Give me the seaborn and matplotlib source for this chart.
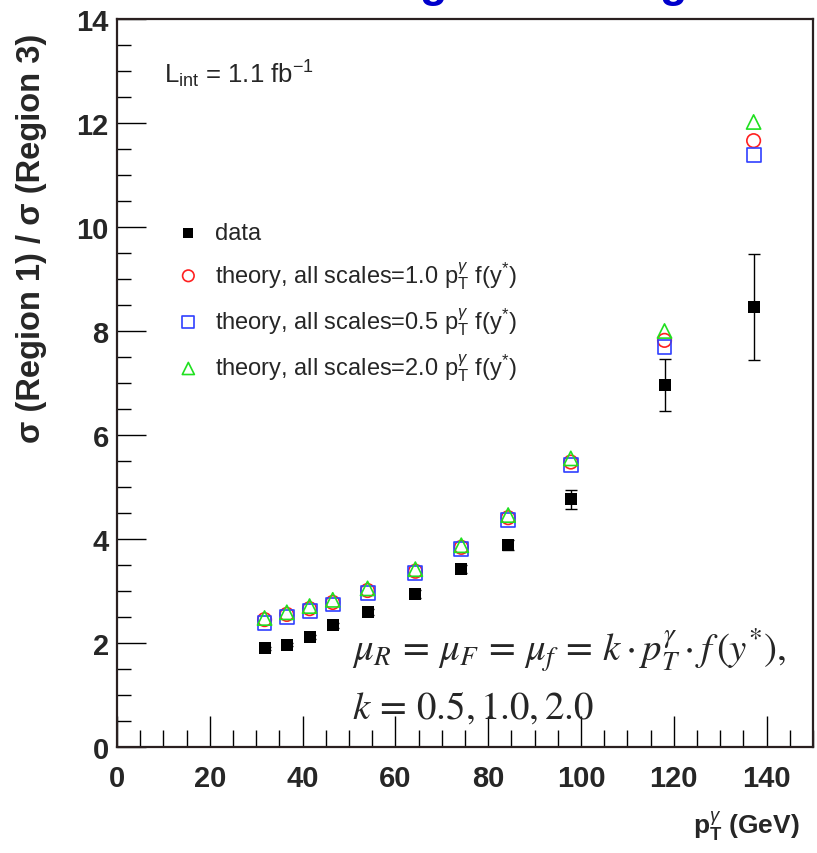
import matplotlib
matplotlib.use("Agg")
import matplotlib.pyplot as plt
import seaborn as sns
import pandas as pd
import numpy as np
from matplotlib.ticker import MultipleLocator

# ---- data ----
pt = [31.8, 36.6, 41.5, 46.5, 54.0, 64.3, 74.2, 84.3, 97.8, 118.0, 137.2]
data = [1.90, 1.97, 2.12, 2.34, 2.59, 2.94, 3.42, 3.89, 4.76, 6.97, 8.46]
data_err = [0.03, 0.03, 0.04, 0.05, 0.06, 0.07, 0.08, 0.10, 0.18, 0.50, 1.02]
theory_10 = [2.45, 2.55, 2.66, 2.78, 3.01, 3.38, 3.84, 4.41, 5.48, 7.82, 11.66]
theory_05 = [2.38, 2.50, 2.61, 2.74, 2.97, 3.34, 3.80, 4.37, 5.43, 7.70, 11.38]
theory_20 = [2.48, 2.59, 2.71, 2.83, 3.05, 3.42, 3.88, 4.46, 5.55, 8.00, 12.02]

lbl_data = "data"
lbl_10 = r"theory, all scales=1.0 $\mathrm{p}_{\mathrm{T}}^{\gamma}$ f(y$^{*}$)"
lbl_05 = r"theory, all scales=0.5 $\mathrm{p}_{\mathrm{T}}^{\gamma}$ f(y$^{*}$)"
lbl_20 = r"theory, all scales=2.0 $\mathrm{p}_{\mathrm{T}}^{\gamma}$ f(y$^{*}$)"

sns.set_theme(style="white")
plt.rcParams["font.family"] = ["Liberation Sans", "DejaVu Sans"]
plt.rcParams["mathtext.fontset"] = "custom"
plt.rcParams["mathtext.rm"] = "Liberation Sans"
plt.rcParams["mathtext.it"] = "Liberation Sans:italic"
plt.rcParams["mathtext.bf"] = "Liberation Sans:bold"

fig = plt.figure(figsize=(8.17, 8.54), dpi=100)
ax = fig.add_axes([117/817, 106/854, 696/817, 728/854])

df = pd.DataFrame({"pt": pt, "data": data, "err": data_err,
                   "t10": theory_10, "t05": theory_05, "t20": theory_20})

ax.errorbar(df["pt"], df["data"], yerr=df["err"], fmt="none", ecolor="black",
            elinewidth=1.0, capsize=4.5, capthick=1.0, zorder=2)
sns.scatterplot(data=df, x="pt", y="data", ax=ax, marker="s", s=85,
                color="black", edgecolor="black", linewidth=0, label=lbl_data, zorder=3)
sns.scatterplot(data=df, x="pt", y="t10", ax=ax, marker="o", s=95,
                facecolor="none", edgecolor="#ff2020", linewidth=1.2, label=lbl_10, zorder=4)
sns.scatterplot(data=df, x="pt", y="t05", ax=ax, marker="s", s=100,
                facecolor="none", edgecolor="#3040ff", linewidth=1.2, label=lbl_05, zorder=4)
sns.scatterplot(data=df, x="pt", y="t20", ax=ax, marker="^", s=105,
                facecolor="none", edgecolor="#20e020", linewidth=1.2, label=lbl_20, zorder=5)

ax.set_xlim(0, 150)
ax.set_ylim(0, 14)
ax.xaxis.set_major_locator(MultipleLocator(20))
ax.xaxis.set_minor_locator(MultipleLocator(5))
ax.yaxis.set_major_locator(MultipleLocator(2))
ax.yaxis.set_minor_locator(MultipleLocator(0.5))
ax.tick_params(axis="x", which="major", direction="in", length=22, width=1, pad=12,
               labelsize=21, color="black")
ax.tick_params(axis="x", which="minor", direction="in", length=12, width=1, color="black")
ax.tick_params(axis="y", which="major", direction="in", length=21, width=1, pad=6,
               labelsize=21, color="black")
ax.tick_params(axis="y", which="minor", direction="in", length=10, width=1, color="black")
ax.tick_params(bottom=True, left=True, which="both")
for lab in ax.get_xticklabels() + ax.get_yticklabels():
    lab.set_fontweight("bold")
for sp in ax.spines.values():
    sp.set_color("#2a2020")
    sp.set_linewidth(1.6)

ax.set_ylabel(r"σ (Region 1) / σ (Region 3)", fontsize=23.5, fontweight="bold")
ax.yaxis.set_label_coords(-0.1, 0.70)
ax.set_xlabel(r"$\mathbf{p}_{\mathbf{T}}^{\gamma}$ (GeV)", fontsize=19, fontweight="bold", ha="right")
ax.xaxis.set_label_coords(0.981, -0.085)

leg = ax.legend(loc="upper left", bbox_to_anchor=(0.055, 0.75), frameon=False,
                fontsize=17, labelspacing=0.62, handletextpad=0.65, handlelength=1.0,
                markerscale=0.85)

ax.text(0.068, 0.925, r"L$_{\mathrm{int}}$ = 1.1 fb$^{\mathrm{-1}}$", transform=ax.transAxes,
        fontsize=18.5, ha="left", va="center")

ax.text(0.338, 0.118, r"$\mu_R \,=\, \mu_F \,=\, \mu_f \,=\, k \cdot p_T^{\gamma} \cdot f\,(y^{*}),$",
        transform=ax.transAxes, fontsize=28, ha="left", va="baseline", math_fontfamily="stix")
ax.text(0.338, 0.04, r"$k \,=\, 0.5, 1.0, 2.0$",
        transform=ax.transAxes, fontsize=28, ha="left", va="baseline", math_fontfamily="stix")

# cut-off blue title letters at the top edge (the reference shows only their lower part)
fig.text(433/817, 1 + 3/854, "g", color="#0000cc", fontsize=32, fontweight="bold",
         ha="center", va="baseline")
fig.text(673/817, 1 + 3/854, "g", color="#0000cc", fontsize=32, fontweight="bold",
         ha="center", va="baseline")

fig.savefig("out.png", dpi=100)
